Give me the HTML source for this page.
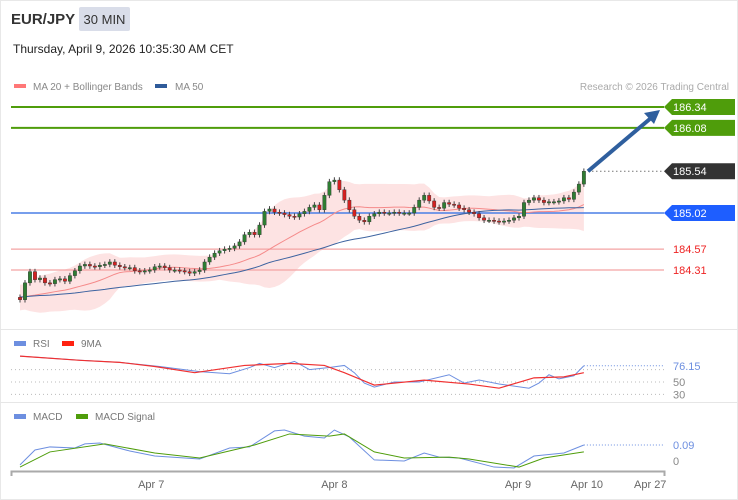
<!DOCTYPE html>
<html><head><meta charset="utf-8"><style>
html,body{margin:0;padding:0;background:#fff;}
body{width:738px;height:500px;overflow:hidden;font-family:"Liberation Sans",Arial,sans-serif;}
svg{display:block}
</style></head><body>
<svg id="chart" width="738" height="500" viewBox="0 0 738 500" xmlns="http://www.w3.org/2000/svg" font-family="Liberation Sans, Arial, sans-serif">
<rect x="0.5" y="0.5" width="737" height="499" fill="#fff" stroke="#e8e8e8"/>
<text x="11" y="24" font-size="15" font-weight="bold" fill="#333">EUR/JPY</text>
<rect x="79" y="7" width="51" height="24" rx="2" fill="#d9dde9"/>
<text x="104.5" y="24" font-size="13" fill="#333" text-anchor="middle">30 MIN</text>
<text x="13" y="53" font-size="12" fill="#222">Thursday, April 9, 2026 10:35:30 AM CET</text>
<rect x="14" y="84" width="12" height="4" fill="#f77"/>
<text x="33" y="90" font-size="10" fill="#888">MA 20 + Bollinger Bands</text>
<rect x="155" y="84" width="12" height="4" fill="#2f5b9a"/>
<text x="175" y="90" font-size="10" fill="#888">MA 50</text>
<text x="729" y="90" font-size="10" fill="#aaa" text-anchor="end">Research © 2026 Trading Central</text>
<line x1="0" y1="329.5" x2="738" y2="329.5" stroke="#e6e6e6"/>
<line x1="0" y1="402.5" x2="738" y2="402.5" stroke="#e6e6e6"/>
<g id="main"></g>
<g id="rsi"></g>
<g id="macd"></g>
<g id="axis"></g>
</svg>
<script>
const priorCloses=[184.02,183.98,183.95,184.01,184.04,183.99,183.93,183.90,183.96,184.00,184.03,183.97,183.92,183.95,184.00,184.05,184.02,183.96,183.94,183.99,184.03,184.00,183.95,183.91,183.94,184.00,184.04,184.01,183.97,183.93,183.96,184.02,184.05,184.00,183.95,183.92,183.96,184.01,183.98,183.94,183.97,184.03,184.06,184.02,183.97,183.93,183.90,183.88,183.85];
const closes=[183.94,184.15,184.29,184.19,184.21,184.15,184.14,184.19,184.20,184.17,184.24,184.30,184.36,184.38,184.36,184.35,184.37,184.38,184.41,184.37,184.35,184.34,184.34,184.30,184.29,184.30,184.31,184.35,184.36,184.34,184.31,184.31,184.30,184.29,184.27,184.29,184.31,184.41,184.47,184.52,184.55,184.57,184.58,184.61,184.66,184.75,184.78,184.75,184.87,185.04,185.07,185.03,185.02,185.00,184.98,184.97,185.01,185.04,185.09,185.12,185.06,185.24,185.41,185.43,185.31,185.18,185.06,184.98,184.93,184.91,184.98,185.01,185.03,185.02,185.02,185.03,185.02,185.02,185.02,185.09,185.18,185.24,185.17,185.09,185.08,185.15,185.13,185.12,185.08,185.06,185.03,185.01,184.96,184.93,184.93,184.92,184.91,184.92,184.93,184.96,184.98,185.15,185.18,185.21,185.18,185.15,185.16,185.16,185.17,185.21,185.19,185.28,185.38,185.54];
const levels=[186.34,186.08,185.54,185.02,184.57,184.31];
const levelLabels=["186.34","186.08","185.54","185.02","184.57","184.31"];
const levelKinds=["green","green","last","blue","red","red"];
const rsiIdx=[0,12,20,28,36,42,46,48,51,55,58,62,65,67,69,71,75,80,86,89,92,96,102,104,106,108,111,113];
const rsiVal=[91.7,85,81.7,75,66.7,63.3,73.3,80,73.3,83.3,70,73.3,76.7,65,48.3,41.7,50,50,61.7,48.3,53.3,46.7,40,48.3,61.7,55,60,76.15];
const rsiMaIdx=[0,12,20,27,35,45,54,61,65,71,81,90,96,103,109,113];
const rsiMaVal=[91.7,85,81.7,75,65,76.7,80,76.7,65,45,53,46.7,40,56.7,58.3,65];
const rsiTicks=[50,30];
const macdIdx=[0,3,6,11,13,16,22,27,36,42,46,51,53,57,61,63,66,71,77,81,84,88,95,99,103,109,113];
const macdVal=[-0.022,0.062,0.079,0.073,0.096,0.101,0.056,0.028,0.011,0.073,0.079,0.169,0.174,0.14,0.129,0.174,0.135,0.006,0,0.045,0.022,0.017,-0.034,-0.039,0.028,0.045,0.09];
const sigIdx=[0,6,17,27,36,47,54,62,65,71,77,86,90,100,105,113];
const sigVal=[-0.034,0.051,0.096,0.045,0.017,0.090,0.152,0.14,0.152,0.051,0.017,0.022,0.011,-0.034,0.017,0.051];
const dateLabels=["Apr 7","Apr 8","Apr 9","Apr 10","Apr 27"];
const dateIdx=[26.3,63,99.8,113.6,126.3];

const NS="http://www.w3.org/2000/svg";
function mk(tag,attrs,parent){const e=document.createElementNS(NS,tag);for(const k in attrs)e.setAttribute(k,attrs[k]);parent.appendChild(e);return e;}
const xOf=i=>20+i*4.99;
const yP=p=>107+(186.34-p)*80.3;
const yR=v=>382-(v-50)*0.62;
const yM=v=>461-v*178;
const main=document.getElementById('main'),rsi=document.getElementById('rsi'),macd=document.getElementById('macd'),axis=document.getElementById('axis');

// indicators (using prior history)
const all=priorCloses.concat(closes);const off=priorCloses.length;
function win(n,j){return all.slice(Math.max(0,j-n+1),j+1);}
let up=[],lo=[],ma20=[],ma50=[];
closes.forEach((c,i)=>{const j=i+off;const s=win(20,j);const m=s.reduce((a,b)=>a+b,0)/s.length;const d=Math.max(Math.sqrt(s.reduce((a,b)=>a+(b-m)*(b-m),0)/s.length),0.08);ma20.push(m);up.push(m+2*d);lo.push(m-2*d);const s5=win(50,j);ma50.push(s5.reduce((a,b)=>a+b,0)/s5.length);});
let band=up.map((v,i)=>xOf(i)+','+yP(v)).join(' ')+' '+lo.map((v,i)=>xOf(i)+','+yP(v)).reverse().join(' ');
const bb=mk('polygon',{points:band,fill:'#fde3e3',stroke:'none'},main);



levels.forEach((lv,k)=>{
  const y=yP(lv),kind=levelKinds[k];
  let col=kind==='green'?'#4f9d0b':kind==='blue'?'#4a7fe6':kind==='red'?'#f4a3a3':'#666';
  if(kind==='last'){
    const l=mk('line',{x1:588,y1:y,x2:664,y2:y,stroke:'#777','stroke-dasharray':'1.5,2.5'},main);
    
    
  } else {
    const l=mk('line',{x1:11,y1:y,x2:664,y2:y,stroke:col,'stroke-width':kind==='green'?2:(kind==='blue'?1.5:1.2)},main);
    
    
  }
  if(kind==='red'){
    const t=mk('text',{x:673,y:y+4,'font-size':11,fill:'#e22'},main);t.textContent=levelLabels[k];
    
    
  } else {
    const bg=kind==='green'?'#4f9d0b':kind==='blue'?'#1e5eff':'#333';
    const tag=mk('polygon',{points:`664,${y} 672,${y-8} 735,${y-8} 735,${y+8} 672,${y+8}`,fill:bg},main);
    
    
    const t=mk('text',{x:673,y:y+4,'font-size':11,fill:'#fff'},main);t.textContent=levelLabels[k];
    
    
  }
});

const m20=mk('polyline',{points:ma20.map((v,i)=>xOf(i)+','+yP(v)).join(' '),fill:'none',stroke:'#f58a8a','stroke-width':1},main);


const m50=mk('polyline',{points:ma50.map((v,i)=>xOf(i)+','+yP(v)).join(' '),fill:'none',stroke:'#3d63a0','stroke-width':1},main);



closes.forEach((c,i)=>{
  const o=i===0?c+0.03:closes[i-1];
  const x=xOf(i),hi=Math.max(o,c)+0.035,lw=Math.min(o,c)-0.035;
  const upC=c>=o;const col=upC?'#2e7d32':'#d32020';
  const w=mk('line',{x1:x,y1:yP(hi),x2:x,y2:yP(lw),stroke:'#444','stroke-width':1},main);
  
  
  const top=yP(Math.max(o,c)),h=Math.max(1.2,yP(Math.min(o,c))-top);
  const b=mk('rect',{x:x-1.7,y:top,width:3.4,height:h,fill:col,stroke:'#333','stroke-width':0.4},main);
  
  
});

const ax1=588,ay1=yP(closes[closes.length-1]),ax2=660,ay2=yP(levels[0])+3;
const ar=mk('line',{x1:ax1,y1:ay1,x2:ax2-9,y2:ay2+8,stroke:'#2f5f9e','stroke-width':4},main);


const ah=mk('polygon',{points:`${ax2},${ay2} ${ax2-16},${ay2+3} ${ax2-6},${ay2+14}`,fill:'#2f5f9e'},main);



function legend(g,x,y,col,label,name){const r=mk('rect',{x:x,y:y-4,width:12,height:5,fill:col},g);const t=mk('text',{x:x+19,y:y+2,'font-size':10,fill:'#777'},g);t.textContent=label;}
legend(rsi,14,345,'#6d8fe0','RSI','legend-rsi');
legend(rsi,62,345,'#f21','9MA','legend-rsi-9ma');
[70,50,30].forEach(v=>{const l=mk('line',{x1:11,y1:yR(v),x2:664,y2:yR(v),stroke:'#bbb','stroke-dasharray':'1,3'},rsi);});
rsiTicks.forEach(v=>{const t=mk('text',{x:673,y:yR(v)+4,'font-size':11,fill:'#888'},rsi);t.textContent=v;});
const rl=mk('polyline',{points:rsiIdx.map((d,k)=>xOf(d)+','+yR(rsiVal[k])).join(' '),fill:'none',stroke:'#6d8fe0','stroke-width':1},rsi);


const rm=mk('polyline',{points:rsiMaIdx.map((d,k)=>xOf(d)+','+yR(rsiMaVal[k])).join(' '),fill:'none',stroke:'#f03030','stroke-width':1.2},rsi);


const lastR=rsiVal[rsiVal.length-1];
const rd=mk('line',{x1:xOf(rsiIdx[rsiIdx.length-1]),y1:yR(lastR),x2:664,y2:yR(lastR),stroke:'#6d8fe0','stroke-dasharray':'1,2'},rsi);


const rt=mk('text',{x:673,y:yR(lastR)+4,'font-size':11,fill:'#6d8fe0'},rsi);rt.textContent=lastR.toFixed(2);



legend(macd,14,418,'#6d8fe0','MACD','legend-macd');
legend(macd,76,418,'#4f9d0b','MACD Signal','legend-macd-signal');
const ml=mk('polyline',{points:macdIdx.map((d,k)=>xOf(d)+','+yM(macdVal[k])).join(' '),fill:'none',stroke:'#6d8fe0','stroke-width':1},macd);


const sl=mk('polyline',{points:sigIdx.map((d,k)=>xOf(d)+','+yM(sigVal[k])).join(' '),fill:'none',stroke:'#4f9d0b','stroke-width':1},macd);


const lastM=macdVal[macdVal.length-1];
const md=mk('line',{x1:xOf(macdIdx[macdIdx.length-1]),y1:yM(lastM),x2:664,y2:yM(lastM),stroke:'#6d8fe0','stroke-dasharray':'1,2'},macd);


const mt=mk('text',{x:673,y:yM(lastM)+4,'font-size':11,fill:'#6d8fe0'},macd);mt.textContent=lastM.toFixed(2);


const zt=mk('text',{x:673,y:yM(0)+4,'font-size':11,fill:'#888'},macd);zt.textContent='0';



const al=mk('path',{d:'M11.5,476 V471.5 H664.5 V476',fill:'none',stroke:'#aaa','stroke-width':2},axis);


dateLabels.forEach((d,k)=>{const t=mk('text',{x:xOf(dateIdx[k]),y:488,'font-size':11,fill:'#666','text-anchor':'middle'},axis);t.textContent=d;});
</script>
</body></html>
